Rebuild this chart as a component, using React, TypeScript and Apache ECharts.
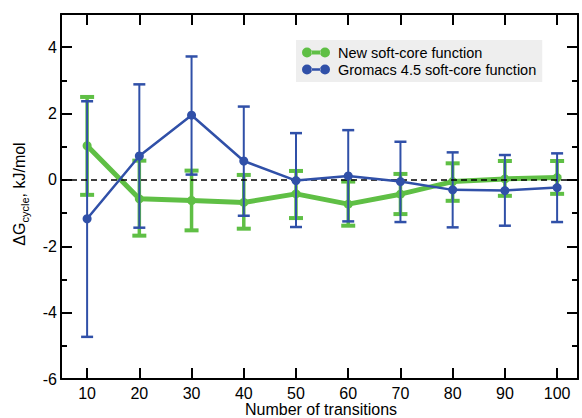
import React, { useEffect, useRef } from "react";
import * as echarts from "echarts";

const transitions = [10, 20, 30, 40, 50, 60, 70, 80, 90, 100];
const newMean = [1.03, -0.57, -0.62, -0.68, -0.42, -0.73, -0.43, -0.05, 0.03, 0.07];
const newUpper = [2.5, 0.58, 0.28, 0.15, 0.27, -0.05, 0.18, 0.5, 0.57, 0.57];
const newLower = [-0.45, -1.68, -1.52, -1.47, -1.15, -1.38, -1.03, -0.63, -0.48, -0.42];
const gmxMean = [-1.17, 0.72, 1.95, 0.57, -0.02, 0.12, -0.05, -0.3, -0.32, -0.23];
const gmxUpper = [2.37, 2.88, 3.72, 2.21, 1.41, 1.5, 1.15, 0.83, 0.75, 0.8];
const gmxLower = [-4.73, -1.44, 0.16, -1.08, -1.42, -1.25, -1.27, -1.43, -1.38, -1.27];

const xTicks = [10, 20, 30, 40, 50, 60, 70, 80, 90, 100];
const yMajor = [-6, -4, -2, 0, 2, 4];
const yMinor = [-5, -3, -1, 1, 3];

const GREEN = "#5fbf45";
const BLUE = "#3050a8";
const FONT = "'Liberation Sans', Arial, Helvetica, sans-serif";

const iconGreen =
  "path://M5,0A5,5 0 1,0 5,10A5,5 0 1,0 5,0ZM23,0A5,5 0 1,0 23,10A5,5 0 1,0 23,0ZM9.5,3L18.5,3L18.5,7L9.5,7Z";
const iconBlue =
  "path://M5,0A5,5 0 1,0 5,10A5,5 0 1,0 5,0ZM23,0A5,5 0 1,0 23,10A5,5 0 1,0 23,0ZM9.5,3.8L18.5,3.8L18.5,6.2L9.5,6.2Z";

function errorSeries(lower: number[], upper: number[], color: string, lw: number, capW: number, capLw: number, z: number) {
  return {
    type: "custom",
    silent: true,
    z,
    data: transitions.map((x, i) => [x, lower[i], upper[i]]),
    encode: { x: 0, y: [1, 2] },
    renderItem: (params: any, api: any) => {
      const x = api.value(0);
      const lo = api.coord([x, api.value(1)]);
      const hi = api.coord([x, api.value(2)]);
      const h = capW / 2;
      return {
        type: "group",
        children: [
          { type: "line", shape: { x1: lo[0], y1: lo[1], x2: hi[0], y2: hi[1] }, style: { stroke: color, lineWidth: lw } },
          { type: "line", shape: { x1: lo[0] - h, y1: lo[1], x2: lo[0] + h, y2: lo[1] }, style: { stroke: color, lineWidth: capLw } },
          { type: "line", shape: { x1: hi[0] - h, y1: hi[1], x2: hi[0] + h, y2: hi[1] }, style: { stroke: color, lineWidth: capLw } },
        ],
      };
    },
  };
}

export default function App() {
  const ref = useRef<HTMLDivElement>(null);
  useEffect(() => {
    if (!ref.current) return;
    const chart = echarts.init(ref.current, null, { renderer: "svg" });
    const axisLine = { show: true, onZero: false, lineStyle: { color: "#000", width: 2 } };
    const xBase = { type: "value", min: 5, max: 104, splitLine: { show: false }, axisLine };
    const yBase = { type: "value", min: -6, max: 5, splitLine: { show: false }, axisLine };
    chart.setOption({
      animation: false,
      textStyle: { fontFamily: FONT },
      grid: { left: 61, top: 14, right: 4, bottom: 39, outerBoundsMode: "none", containLabel: false },
      graphic: [
        {
          type: "text",
          x: 19,
          y: 194,
          rotation: Math.PI / 2,
          style: {
            text: "{a|ΔG}{sub|cycle}{a|, kJ/mol}",
            align: "center",
            verticalAlign: "middle",
            fill: "#000",
            fontFamily: FONT,
            rich: {
              a: { fontSize: 16, lineHeight: 22, fill: "#000", fontFamily: FONT },
              sub: { fontSize: 11, lineHeight: 12, verticalAlign: "bottom", fill: "#000", fontFamily: FONT },
            },
          },
        },
        {
          type: "text",
          x: 321,
          y: 409,
          style: {
            text: "Number of transitions",
            align: "center",
            verticalAlign: "middle",
            fontSize: 16,
            fill: "#000",
            fontFamily: FONT,
          },
        },
      ],
      legend: {
        orient: "vertical",
        left: 296,
        top: 40,
        backgroundColor: "#eeeeee",
        padding: [5, 6, 5, 6],
        itemGap: 2,
        itemWidth: 28,
        itemHeight: 10,
        selectedMode: false,
        textStyle: { fontSize: 14.5, lineHeight: 15, color: "#000", fontFamily: FONT, padding: [0, 0, 0, 3] },
        data: [
          { name: "New soft-core function", icon: iconGreen },
          { name: "Gromacs 4.5 soft-core function", icon: iconBlue },
        ],
      },
      xAxis: [
        {
          ...xBase,
          position: "bottom",
          axisTick: { inside: true, length: 11, lineStyle: { width: 2, color: "#000" }, customValues: xTicks },
          axisLabel: { fontSize: 16, color: "#000", margin: 6, customValues: xTicks, fontFamily: FONT },
        },
        {
          ...xBase,
          position: "top",
          axisTick: { inside: true, length: 11, lineStyle: { width: 2, color: "#000" }, customValues: xTicks },
          axisLabel: { show: false },
        },
      ],
      yAxis: [
        {
          ...yBase,
          position: "left",
          axisTick: { inside: true, length: 11, lineStyle: { width: 2, color: "#000" }, customValues: yMajor },
          axisLabel: { fontSize: 16, color: "#000", margin: 4, customValues: yMajor, fontFamily: FONT },
        },
        {
          ...yBase,
          position: "left",
          axisLine: { show: false, onZero: false },
          axisTick: { inside: true, length: 6, lineStyle: { width: 2, color: "#000" }, customValues: yMinor },
          axisLabel: { show: false },
        },
        {
          ...yBase,
          position: "right",
          axisTick: { inside: true, length: 11, lineStyle: { width: 2, color: "#000" }, customValues: yMajor },
          axisLabel: { show: false },
        },
        {
          ...yBase,
          position: "right",
          axisLine: { show: false, onZero: false },
          axisTick: { inside: true, length: 6, lineStyle: { width: 2, color: "#000" }, customValues: yMinor },
          axisLabel: { show: false },
        },
      ],
      series: [
        errorSeries(newLower, newUpper, GREEN, 3.5, 14, 4, 2),
        {
          name: "New soft-core function",
          type: "line",
          z: 3,
          data: transitions.map((x, i) => [x, newMean[i]]),
          symbol: "circle",
          symbolSize: 9,
          lineStyle: { color: GREEN, width: 5 },
          itemStyle: { color: GREEN },
          markLine: {
            silent: true,
            symbol: "none",
            label: { show: false },
            lineStyle: { color: "#000", width: 1.5, type: [6, 4] },
            data: [{ yAxis: 0 }],
          },
        },
        errorSeries(gmxLower, gmxUpper, BLUE, 2, 12, 2.5, 4),
        {
          name: "Gromacs 4.5 soft-core function",
          type: "line",
          z: 5,
          data: transitions.map((x, i) => [x, gmxMean[i]]),
          symbol: "circle",
          symbolSize: 9,
          lineStyle: { color: BLUE, width: 2.5 },
          itemStyle: { color: BLUE },
        },
      ],
    });
    return () => chart.dispose();
  }, []);
  return <div ref={ref} style={{ position: "absolute", left: 0, top: 0, width: 582, height: 418 }} />;
}
